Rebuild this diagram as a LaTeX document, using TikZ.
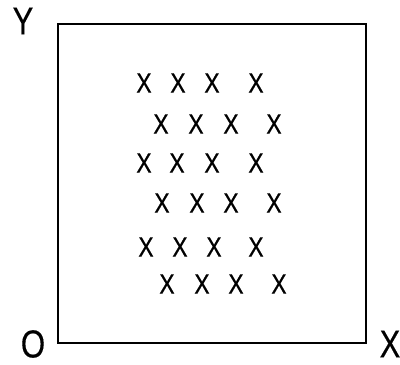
\documentclass[tikz,border=0pt]{standalone}
\usepackage{fontspec}
\newfontfamily\narrowsans[FakeStretch=0.8,FakeBold=0.3]{Liberation Sans}
\newfontfamily\crosssans[FakeStretch=0.82,FakeBold=0.6]{Liberation Sans}
\usetikzlibrary{positioning}

\tikzset{
  axislabel/.style={inner sep=0pt, font=\narrowsans\fontsize{39}{39}\selectfont},
  cross/.style={inner sep=0pt, font=\crosssans\fontsize{28}{28}\selectfont}
}

\begin{document}
\begin{tikzpicture}[x=1pt,y=-1pt]
    \useasboundingbox (0,0) rectangle (400,365);
    \coordinate (O) at (58,343);
    \coordinate (Xend) at (366,343);
    \coordinate (Yend) at (58,24);
    \coordinate (corner) at (366,24);
    \draw[line width=1.6pt, line join=miter] (Yend) -- (O) -- (Xend) -- (corner) -- cycle;

    \node[axislabel] (ylab) at (23,21) {Y};
    \node[axislabel] (olab) at (33,344) {O};
    \node[axislabel] (xlab) at (390,344) {X};

    % rows of crosses
    \foreach \r/\y/\xa/\xb/\xc/\xd in {1/83/144/178/212/256, 2/124/161/196/231/274,
                                       3/163/144/177/212/256, 4/203/162/197/231/274,
                                       5/247/146/180/214/256, 6/284/167/202/236/279}{
      \node[cross] (m\r a) at (\xa,\y) {X};
      \node[cross] (m\r b) at (\xb,\y) {X};
      \node[cross] (m\r c) at (\xc,\y) {X};
      \node[cross] (m\r d) at (\xd,\y) {X};
    }
\end{tikzpicture}
\end{document}
